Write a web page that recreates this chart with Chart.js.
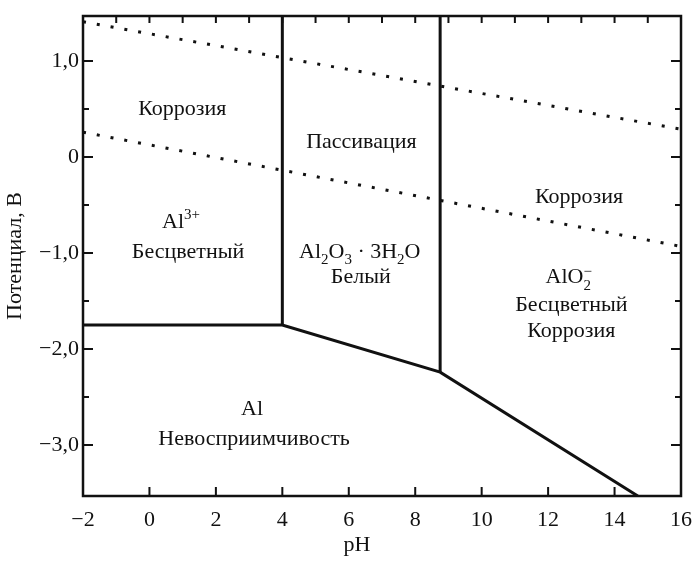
<!DOCTYPE html>
<html lang="ru">
<head>
<meta charset="utf-8">
<title>Диаграмма Пурбе: алюминий</title>
<script src="https://cdn.jsdelivr.net/npm/chart.js@4.4.1/dist/chart.umd.min.js"></script>
<style>
  html, body { margin: 0; padding: 0; background: #fff; }
  #wrap { width: 695px; height: 562px; }
</style>
</head>
<body>
<div id="wrap"><canvas id="diagram" width="695" height="562"></canvas></div>
<script>
// ==================== Данные ====================
const phMin = -2, phMax = 16;
const eMin = -3.53, eMax = 1.47;

const phTicks = [-2, 0, 2, 4, 6, 8, 10, 12, 14, 16];          // подписи снизу
const phTopMarks = [-1, 0, 1, 2, 3, 4, 5, 6, 7, 8, 9, 10, 11, 12, 13, 14, 15];
const eTicks = [-3, -2, -1, 0, 1];                              // подписи слева
const eMarks = [-3, -2.5, -2, -1.5, -1, -0.5, 0, 0.5, 1];

// граница области Al (невосприимчивость)
const immunityPH = [-2, 4, 8.75, 14.7];
const immunityE = [-1.75, -1.75, -2.24, -3.53];
// Al3+ | Al2O3
const acidPH = [4, 4];
const acidE = [-1.75, 1.47];
// Al2O3 | AlO2-
const alkaliPH = [8.75, 8.75];
const alkaliE = [-2.24, 1.47];
// линии устойчивости воды
const oxygenPH = [-2, 16];
const oxygenE = [1.41, 0.29];
const hydrogenPH = [-2, 16];
const hydrogenE = [0.26, -0.93];

// подписи областей: положение в координатах pH / E
const regionLabels = [
  { ph: 0.99, e: 0.51, parts: [['Коррозия']] },
  { ph: 0.95, e: -0.66, parts: [['Al'], ['3+', 'sup']] },
  { ph: 1.16, e: -0.97, parts: [['Бесцветный']] },
  { ph: 6.38, e: 0.17, parts: [['Пассивация']] },
  { ph: 6.33, e: -0.97, parts: [['Al'], ['2', 'sub'], ['O'], ['3', 'sub'], [' · 3H'], ['2', 'sub'], ['O']] },
  { ph: 6.36, e: -1.24, parts: [['Белый']] },
  { ph: 12.93, e: -0.40, parts: [['Коррозия']] },
  { ph: 12.62, e: -1.24, parts: [['AlO'], ['2', 'subsup', '−']] },
  { ph: 12.7, e: -1.53, parts: [['Бесцветный']] },
  { ph: 12.7, e: -1.80, parts: [['Коррозия']] },
  { ph: 3.09, e: -2.61, parts: [['Al']] },
  { ph: 3.15, e: -2.92, parts: [['Невосприимчивость']] }
];

const FONT = '"Liberation Serif", "Times New Roman", serif';
const INK = '#111';

// ==================== Форматирование ====================
function fmtE(v) {
  if (v === 0) return '0';
  return (v < 0 ? '−' : '') + Math.abs(v).toFixed(1).replace('.', ',');
}
function fmtPH(v) {
  return (v < 0 ? '−' : '') + Math.abs(v);
}

function seg(xs, ys, width, dash) {
  return {
    data: xs.map((x, i) => ({ x, y: ys[i] })),
    showLine: true,
    borderColor: INK,
    borderWidth: width,
    borderDash: dash || [],
    borderCapStyle: 'butt',
    borderJoinStyle: 'miter',
    pointRadius: 0,
    fill: false
  };
}

// текст с индексами
function drawRich(ctx, parts, cx, cy, size) {
  const big = size + 'px ' + FONT;
  const sm = Math.round(size * 0.68) + 'px ' + FONT;
  let total = 0;
  const items = parts.map(([text, mode, extra]) => {
    ctx.font = mode ? sm : big;
    let w = ctx.measureText(text).width;
    if (mode === 'subsup') w = Math.max(w, ctx.measureText(extra).width);
    total += w;
    return { text, mode, extra, w };
  });
  let x = cx - total / 2;
  const base = cy + size * 0.33;
  ctx.textAlign = 'left';
  ctx.textBaseline = 'alphabetic';
  items.forEach(it => {
    if (!it.mode) {
      ctx.font = big;
      ctx.fillText(it.text, x, base);
    } else {
      ctx.font = sm;
      if (it.mode === 'sub' || it.mode === 'subsup') ctx.fillText(it.text, x, base + size * 0.28);
      if (it.mode === 'sup') ctx.fillText(it.text, x, base - size * 0.38);
      if (it.mode === 'subsup') ctx.fillText(it.extra, x, base - size * 0.36);
    }
    x += it.w;
  });
}

// ==================== Рамка, засечки, подписи ====================
const framePlugin = {
  id: 'frame',
  afterDraw(chart) {
    const ctx = chart.ctx;
    const ca = chart.chartArea;
    const xs = chart.scales.x, ys = chart.scales.y;
    ctx.save();
    ctx.strokeStyle = INK;
    ctx.fillStyle = INK;

    ctx.lineWidth = 2;
    ctx.beginPath();
    phTicks.forEach(v => {
      if (v <= phMin || v >= phMax) return;
      const px = xs.getPixelForValue(v);
      ctx.moveTo(px, ca.bottom); ctx.lineTo(px, ca.bottom - 9);
    });
    phTopMarks.forEach(v => {
      const px = xs.getPixelForValue(v);
      ctx.moveTo(px, ca.top); ctx.lineTo(px, ca.top + 7);
    });
    eMarks.forEach(v => {
      const py = ys.getPixelForValue(v);
      const len = Number.isInteger(v) ? 10 : 6;
      ctx.moveTo(ca.left, py); ctx.lineTo(ca.left + len, py);
      ctx.moveTo(ca.right, py); ctx.lineTo(ca.right - len, py);
    });
    ctx.stroke();

    ctx.lineWidth = 2.5;
    ctx.strokeRect(ca.left, ca.top, ca.right - ca.left, ca.bottom - ca.top);

    regionLabels.forEach(l => {
      drawRich(ctx, l.parts, xs.getPixelForValue(l.ph), ys.getPixelForValue(l.e), 22);
    });

    // названия осей
    ctx.font = '22px ' + FONT;
    ctx.textAlign = 'center';
    ctx.textBaseline = 'middle';
    ctx.fillText('pH', 357, 545);
    ctx.translate(15, (ca.top + ca.bottom) / 2);
    ctx.rotate(-Math.PI / 2);
    ctx.fillText('Потенциал, В', 0, 0);
    ctx.restore();
  }
};

// ==================== Chart ====================
const tickFont = { family: FONT, size: 22 };

new Chart(document.getElementById('diagram'), {
  type: 'scatter',
  data: {
    datasets: [
      seg(oxygenPH, oxygenE, 3, [3, 11]),
      seg(hydrogenPH, hydrogenE, 3, [3, 11]),
      seg(immunityPH, immunityE, 3),
      seg(acidPH, acidE, 3),
      seg(alkaliPH, alkaliE, 3)
    ]
  },
  options: {
    responsive: false,
    animation: false,
    events: [],
    layout: { padding: { top: 16, right: 14, left: 0, bottom: 0 } },
    plugins: { legend: { display: false }, tooltip: { enabled: false } },
    scales: {
      x: {
        type: 'linear',
        min: phMin, max: phMax,
        afterBuildTicks: s => { s.ticks = phTicks.map(v => ({ value: v })); },
        afterFit: s => { s.height = 66; s.paddingLeft = 0; s.paddingRight = 0; },
        grid: { display: false, drawTicks: false },
        border: { display: false },
        ticks: { padding: 11, font: tickFont, color: INK, maxRotation: 0, autoSkip: false, callback: v => fmtPH(v) }
      },
      y: {
        type: 'linear',
        min: eMin, max: eMax,
        afterBuildTicks: s => { s.ticks = eTicks.map(v => ({ value: v })); },
        afterFit: s => { s.width = 83; s.paddingTop = 0; s.paddingBottom = 0; },
        grid: { display: false, drawTicks: false },
        border: { display: false },
        ticks: { padding: 4, font: tickFont, color: INK, autoSkip: false, callback: v => fmtE(v) }
      }
    }
  },
  plugins: [framePlugin]
});
</script>
</body>
</html>
